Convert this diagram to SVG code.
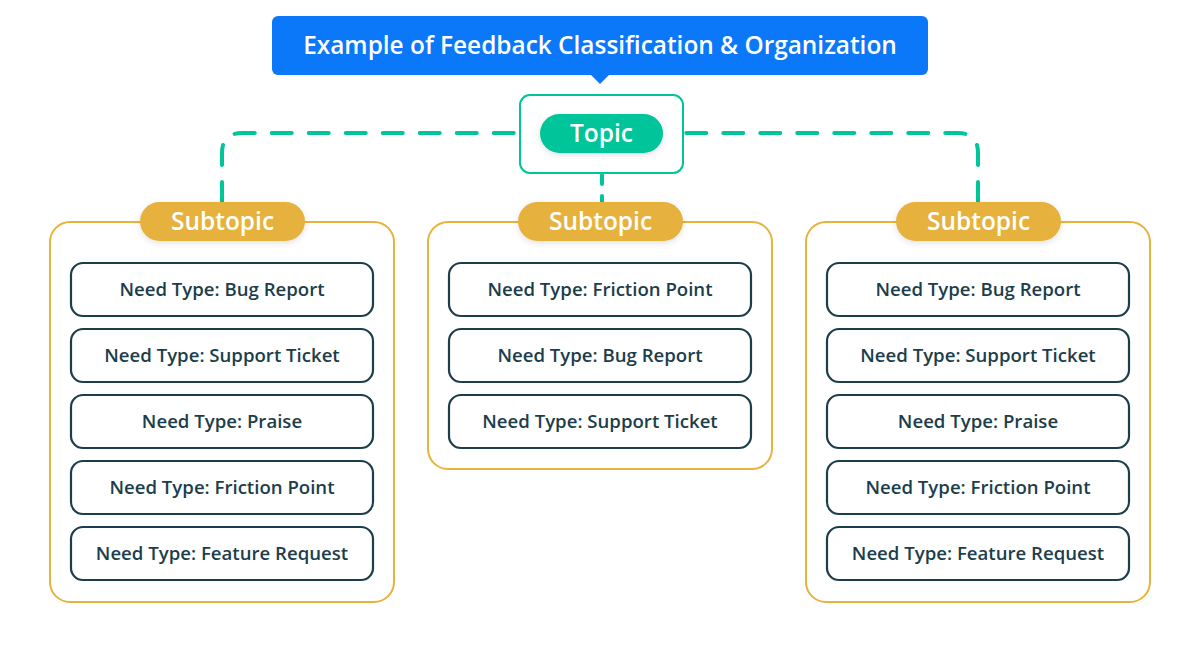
<svg xmlns="http://www.w3.org/2000/svg" width="1200" height="646" viewBox="0 0 1200 646">
<style>
.title{font-family:"Open Sans","Noto Sans",sans-serif;font-weight:600;font-size:24.4px;fill:#fff}
.pilltxt{font-family:"Open Sans","Noto Sans",sans-serif;font-weight:600;font-size:24.5px;fill:#fff}
.panel{fill:#fff;stroke:#e8b23e;stroke-width:2}
.pill{fill:#e6b23e}
.item{fill:#fff;stroke:#1c3e4b;stroke-width:2.2}
.itxt{font-family:"Open Sans","Noto Sans",sans-serif;font-weight:600;font-size:18.6px;fill:#1c3e4b}
.conn{fill:none;stroke:#00c49a;stroke-width:4;stroke-dasharray:20 17;stroke-linecap:round}
.conn2{fill:none;stroke:#00c49a;stroke-width:4;stroke-dasharray:9 12;stroke-linecap:round}
</style>
<defs>
<filter id="sh" x="-20%" y="-40%" width="140%" height="180%">
<feDropShadow dx="0" dy="2" stdDeviation="3" flood-color="#000" flood-opacity="0.12"/>
</filter>
</defs>
<rect width="1200" height="646" fill="#fff"/>
<g id="connectors">
<path class="conn" d="M222,202 V153 Q222,133 242,133 H520"/>
<path class="conn" d="M978,202 V153 Q978,133 958,133 H683"/>
<path class="conn2" d="M602,175 V203"/>
</g>
<g id="title">
<rect x="272" y="16" width="656" height="59" rx="6" fill="#0a78f8"/>
<path d="M591,75 L600,84 L609,75 Z" fill="#0a78f8"/>
<text class="title" x="600" y="54" text-anchor="middle">Example of Feedback Classification &amp; Organization</text>
</g>
<g id="topic">
<rect x="520" y="95" width="163" height="78" rx="10" fill="#fff" stroke="#00c49a" stroke-width="2"/>
<rect x="540" y="114" width="123" height="39" rx="19.5" fill="#00c49a" filter="url(#sh)"/>
<text class="pilltxt" x="601.5" y="142" text-anchor="middle">Topic</text>
</g>
<g id="subtopic-left">
<rect class="panel" x="50" y="222" width="344" height="380" rx="20"/>
<rect class="pill" x="140" y="202" width="165" height="39" rx="19.5" filter="url(#sh)"/>
<text class="pilltxt" x="222.5" y="230" text-anchor="middle">Subtopic</text>
<rect class="item" x="71" y="263" width="302" height="53" rx="12"/>
<text class="itxt" x="222" y="296" text-anchor="middle">Need Type: Bug Report</text>
<rect class="item" x="71" y="329" width="302" height="53" rx="12"/>
<text class="itxt" x="222" y="362" text-anchor="middle">Need Type: Support Ticket</text>
<rect class="item" x="71" y="395" width="302" height="53" rx="12"/>
<text class="itxt" x="222" y="428" text-anchor="middle">Need Type: Praise</text>
<rect class="item" x="71" y="461" width="302" height="53" rx="12"/>
<text class="itxt" x="222" y="494" text-anchor="middle">Need Type: Friction Point</text>
<rect class="item" x="71" y="527" width="302" height="53" rx="12"/>
<text class="itxt" x="222" y="560" text-anchor="middle">Need Type: Feature Request</text>
</g>
<g id="subtopic-middle">
<rect class="panel" x="428" y="222" width="344" height="247" rx="20"/>
<rect class="pill" x="518" y="202" width="165" height="39" rx="19.5" filter="url(#sh)"/>
<text class="pilltxt" x="600.5" y="230" text-anchor="middle">Subtopic</text>
<rect class="item" x="449" y="263" width="302" height="53" rx="12"/>
<text class="itxt" x="600" y="296" text-anchor="middle">Need Type: Friction Point</text>
<rect class="item" x="449" y="329" width="302" height="53" rx="12"/>
<text class="itxt" x="600" y="362" text-anchor="middle">Need Type: Bug Report</text>
<rect class="item" x="449" y="395" width="302" height="53" rx="12"/>
<text class="itxt" x="600" y="428" text-anchor="middle">Need Type: Support Ticket</text>
</g>
<g id="subtopic-right">
<rect class="panel" x="806" y="222" width="344" height="380" rx="20"/>
<rect class="pill" x="896" y="202" width="165" height="39" rx="19.5" filter="url(#sh)"/>
<text class="pilltxt" x="978.5" y="230" text-anchor="middle">Subtopic</text>
<rect class="item" x="827" y="263" width="302" height="53" rx="12"/>
<text class="itxt" x="978" y="296" text-anchor="middle">Need Type: Bug Report</text>
<rect class="item" x="827" y="329" width="302" height="53" rx="12"/>
<text class="itxt" x="978" y="362" text-anchor="middle">Need Type: Support Ticket</text>
<rect class="item" x="827" y="395" width="302" height="53" rx="12"/>
<text class="itxt" x="978" y="428" text-anchor="middle">Need Type: Praise</text>
<rect class="item" x="827" y="461" width="302" height="53" rx="12"/>
<text class="itxt" x="978" y="494" text-anchor="middle">Need Type: Friction Point</text>
<rect class="item" x="827" y="527" width="302" height="53" rx="12"/>
<text class="itxt" x="978" y="560" text-anchor="middle">Need Type: Feature Request</text>
</g>
</svg>
